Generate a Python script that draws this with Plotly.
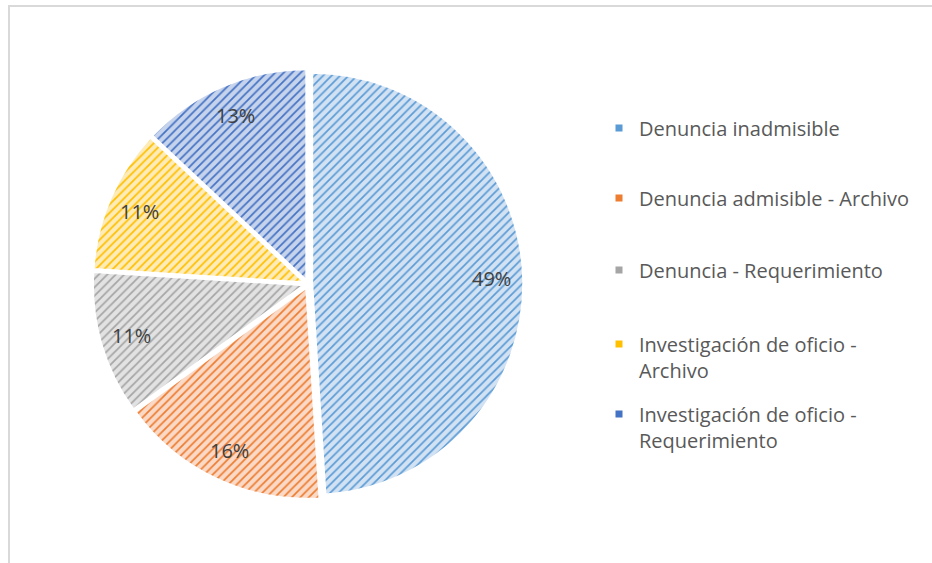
import math
import plotly.graph_objects as go

# ---- data ----
categories = [
    "Denuncia inadmisible",
    "Denuncia admisible - Archivo",
    "Denuncia - Requerimiento",
    "Investigación de oficio - Archivo",
    "Investigación de oficio - Requerimiento",
]
legend_text = [
    "Denuncia inadmisible",
    "Denuncia admisible - Archivo",
    "Denuncia - Requerimiento",
    "Investigación de oficio -<br>Archivo",
    "Investigación de oficio -<br>Requerimiento",
]
values = [49, 16, 11, 11, 13]
main_colors = ["#5B9BD5", "#ED7D31", "#A5A5A5", "#FFC000", "#4472C4"]
tint_colors = ["#D2E2F3", "#FAD9C6", "#E2E2E2", "#FEEBB6", "#C6D3EC"]

# ---- layout constants ----
W, H = 932, 563
CX, CY, R = 308.0, 284.0, 211.0   # pie centre / radius in pixels
PULL = 0.02
LABEL_K = 0.85
FONT = "Open Sans"
LEGEND_FIRST_LINE_Y = [127, 197, 269, 343, 413]   # pixel rows of legend entries
LEGEND_TEXT_X = 639

half = R * (1 + PULL)
dom_x = [(CX - half) / W, (CX + half) / W]
dom_y = [1 - (CY + half) / H, 1 - (CY - half) / H]

fig = go.Figure()
fig.add_trace(go.Pie(
    labels=categories,
    values=values,
    sort=False,
    direction="clockwise",
    rotation=0,
    pull=[PULL] * len(values),
    textinfo="none",
    hoverinfo="label+percent",
    showlegend=False,
    domain=dict(x=dom_x, y=dom_y),
    marker=dict(
        colors=tint_colors,
        line=dict(color="white", width=2),
        pattern=dict(
            shape=["/"] * len(values),
            fillmode="replace",
            bgcolor=tint_colors,
            fgcolor=main_colors,
            size=6,
            solidity=0.28,
        ),
    ),
))

# legend entries (one legend box per entry so spacing matches the original)
legend_layouts = {}
for i, (txt, col) in enumerate(zip(legend_text, main_colors)):
    key = "legend" if i == 0 else f"legend{i + 1}"
    fig.add_trace(go.Scatter(
        x=[None], y=[None], mode="markers", name=txt,
        marker=dict(symbol="square", size=7, color=col),
        legend=key, showlegend=True, hoverinfo="skip",
    ))
    legend_layouts[key] = dict(
        x=(LEGEND_TEXT_X - 40) / W,
        y=1 - (LEGEND_FIRST_LINE_Y[i] - 18.5) / H,
        xanchor="left", yanchor="top", valign="top",
        font=dict(family=FONT, size=20, color="#595959"),
        bgcolor="rgba(0,0,0,0)", borderwidth=0,
    )

# percentage labels positioned from the data (cumulative angles)
total = sum(values)
cum = 0
annotations = []
for v in values:
    a = (cum + v / 2) / total * 2 * math.pi
    cum += v
    dist = (PULL + LABEL_K) * R
    px = CX + dist * math.sin(a)
    py = CY - dist * math.cos(a)
    annotations.append(dict(
        x=px / W, y=1 - py / H, xref="paper", yref="paper",
        text=f"{round(v / total * 100)}%", showarrow=False,
        font=dict(family=FONT, size=20, color="#404040"),
        xanchor="center", yanchor="middle",
    ))

fig.update_layout(
    width=W, height=H,
    margin=dict(l=0, r=0, t=0, b=0),
    paper_bgcolor="white",
    plot_bgcolor="white",
    xaxis=dict(visible=False),
    yaxis=dict(visible=False),
    annotations=annotations,
    shapes=[dict(
        type="rect", xref="paper", yref="paper",
        x0=9 / W, x1=1.05, y0=-0.05, y1=1 - 6 / H,
        line=dict(color="#D9D9D9", width=2), fillcolor="rgba(0,0,0,0)",
        layer="below",
    )],
    **legend_layouts,
)

fig.write_html(
    "out.html",
    config={"displayModeBar": False},
    post_script="document.body.style.margin='0px';",
)
